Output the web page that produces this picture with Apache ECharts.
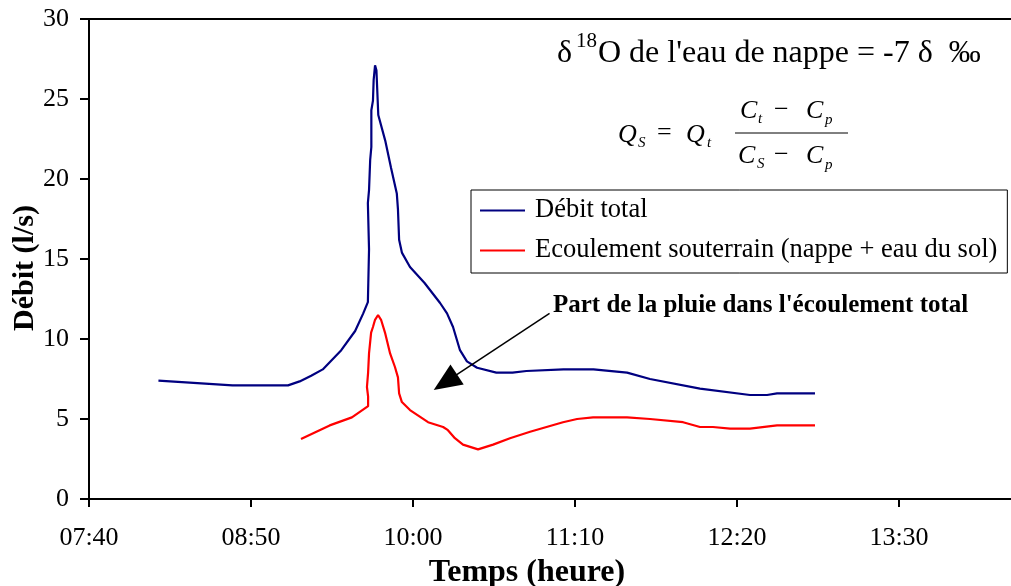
<!DOCTYPE html>
<html><head><meta charset="utf-8">
<script src="https://cdn.jsdelivr.net/npm/echarts@6/dist/echarts.min.js"></script>
<style>html,body{margin:0;padding:0;background:#fff}#c{width:1011px;height:586px}</style>
</head><body><div id="c"></div><script>
// ---- data (time in minutes since midnight, flow in l/s) ----
const axisStart = 460;          // 07:40
const axisInterval = 70;        // tick every 1h10
const axisSpan = 420;           // 07:40 -> 14:40
const yTicks = [0, 5, 10, 15, 20, 25, 30];

const totalTime = [490, 522, 546, 551, 556, 561, 569, 575, 578.5, 580.5, 581, 580.5, 581, 581.5, 582, 582, 582.7, 583, 583.6, 584, 584.2, 585, 588, 590.5, 593, 593.5, 594, 595.2, 598.7, 605, 611.7, 614.7, 617.3, 620.3, 623.3, 627.7, 636, 643, 649, 665, 678, 692.5, 702.4, 724, 745.6, 753, 757.3, 773.7];
const totalFlow = [7.4, 7.1, 7.1, 7.35, 7.7, 8.1, 9.3, 10.5, 11.6, 12.3, 15.6, 18.5, 19.3, 21.2, 22.0, 24.3, 24.9, 26.2, 27.1, 27.1, 26.8, 24.0, 22.4, 20.7, 19.1, 18.1, 16.2, 15.4, 14.5, 13.5, 12.25, 11.6, 10.75, 9.3, 8.6, 8.2, 7.9, 7.9, 8.0, 8.1, 8.1, 7.9, 7.5, 6.9, 6.5, 6.5, 6.6, 6.6];

const groundTime = [551.6, 564, 573.6, 580.6, 580.6, 580.1, 580.6, 581, 581.9, 582.7, 583.6, 584.9, 586.2, 587.9, 590.1, 592.2, 593.5, 594, 595.2, 598.7, 606.5, 613, 615.1, 618.1, 621.6, 628.1, 634.6, 641.9, 650.6, 664.8, 670.9, 677.8, 692.5, 702.4, 716.7, 724, 729.6, 737, 745.6, 757.3, 773.7];
const groundFlow = [3.75, 4.6, 5.1, 5.8, 6.4, 7.0, 7.9, 9.1, 10.4, 10.75, 11.2, 11.5, 11.2, 10.4, 9.1, 8.25, 7.6, 6.6, 6.06, 5.56, 4.8, 4.5, 4.3, 3.8, 3.4, 3.1, 3.4, 3.8, 4.2, 4.8, 5.0, 5.1, 5.1, 5.0, 4.8, 4.5, 4.5, 4.4, 4.4, 4.6, 4.6];

const seriesNames = ['Débit total', 'Ecoulement souterrain (nappe + eau du sol)'];
const arrowFrom = [659, 11.6];   // [time, flow]
const arrowTo = [614, 7.3];

// ---- build ----
const F = "'Liberation Serif','Times New Roman',serif";
const pairs = (ts, vs) => ts.map((t, i) => [t - axisStart, vs[i]]);
const hhmm = v => { const m = Math.round(v + axisStart); const h = Math.floor(m / 60), mm = m % 60; return String(h).padStart(2, '0') + ':' + String(mm).padStart(2, '0'); };

const chart = echarts.init(document.getElementById('c'), null, {renderer: 'canvas'});
const T = (text, x, y, font) => ({ type: 'text', x: x, y: y, silent: true,
  style: { text: text, font: font, fill: '#000', verticalAlign: 'middle', align: 'left' } });
const it = s => 'italic ' + s + 'px ' + F;
const rm = s => s + 'px ' + F;

chart.setOption({
  animation: false,
  backgroundColor: '#fff',
  grid: { left: 89, top: 19, right: -50, bottom: 87, show: true, borderColor: '#000', borderWidth: 2,
    backgroundColor: 'transparent', containLabel: false, outerBoundsMode: 'none' },
  xAxis: {
    type: 'value', min: 0, max: axisSpan, interval: axisInterval,
    name: 'Temps (heure)', nameLocation: 'middle', nameGap: 58, nameMoveOverlap: false,
    nameTextStyle: { fontFamily: F, fontWeight: 'bold', fontSize: 32, color: '#000', padding: [0, 96, 0, 0] },
    axisLine: { lineStyle: { color: '#000', width: 2 } },
    axisTick: { length: 8, lineStyle: { color: '#000', width: 2 } },
    axisLabel: { fontFamily: F, fontSize: 26, color: '#000', margin: 26, formatter: hhmm },
    splitLine: { show: false }
  },
  yAxis: {
    type: 'value', min: yTicks[0], max: yTicks[yTicks.length - 1], interval: yTicks[1] - yTicks[0],
    name: 'Débit (l/s)', nameLocation: 'middle', nameGap: 49, nameRotate: 90, nameMoveOverlap: false,
    nameTextStyle: { fontFamily: F, fontWeight: 'bold', fontSize: 30, color: '#000', padding: [0, 18, 0, 0] },
    axisLine: { show: true, lineStyle: { color: '#000', width: 2 } },
    axisTick: { show: true, length: 9, lineStyle: { color: '#000', width: 2 } },
    axisLabel: { fontFamily: F, fontSize: 26, color: '#000', margin: 20 },
    splitLine: { show: false }
  },
  legend: {
    orient: 'vertical', left: 471, top: 190,
    data: seriesNames.map(n => ({ name: n, icon: 'rect' })),
    borderColor: '#000', borderWidth: 1, padding: [7, 10, 9, 9], itemGap: 13,
    itemWidth: 45, itemHeight: 2,
    textStyle: { fontFamily: F, fontSize: 26.5, color: '#000', padding: [0, 0, 0, 5] }
  },
  series: [
    { name: seriesNames[0], type: 'line', data: pairs(totalTime, totalFlow), symbol: 'none',
      lineStyle: { color: '#000080', width: 2.2 }, itemStyle: { color: '#000080' } },
    { name: seriesNames[1], type: 'line', data: pairs(groundTime, groundFlow), symbol: 'none',
      lineStyle: { color: '#ff0000', width: 2.2 }, itemStyle: { color: '#ff0000' },
      markLine: { silent: true, symbol: ['none', 'triangle'], symbolSize: [24, 28],
        label: { show: false }, lineStyle: { color: '#000', width: 1.5, type: 'solid' },
        data: [[{ coord: [arrowFrom[0] - axisStart, arrowFrom[1]] }, { coord: [arrowTo[0] - axisStart, arrowTo[1]] }]] } }
  ],
  graphic: [
    T('δ', 557, 54, rm(32)),
    T('18', 576, 41, rm(21)),
    T("O de l'eau de nappe = -7 δ  ‰", 598, 54, rm(32)),
    T('Q', 618, 135, it(26)),
    T('S', 638, 143, it(15)),
    T('=', 657, 133, rm(26)),
    T('Q', 686, 135, it(26)),
    T('t', 707, 143, it(15)),
    T('C', 740, 111, it(26)),
    T('t', 758, 119, it(15)),
    T('−', 774, 110, rm(26)),
    T('C', 806, 111, it(26)),
    T('p', 825, 120, it(15)),
    { type: 'line', silent: true, shape: { x1: 735, y1: 133, x2: 848, y2: 133 }, style: { stroke: '#000', lineWidth: 1 } },
    T('C', 738, 156, it(26)),
    T('S', 757, 164, it(15)),
    T('−', 774, 155, rm(26)),
    T('C', 806, 156, it(26)),
    T('p', 825, 165, it(15)),
    T("Part de la pluie dans l'écoulement total", 553, 306, 'bold 25px ' + F)
  ]
});
</script></body></html>
